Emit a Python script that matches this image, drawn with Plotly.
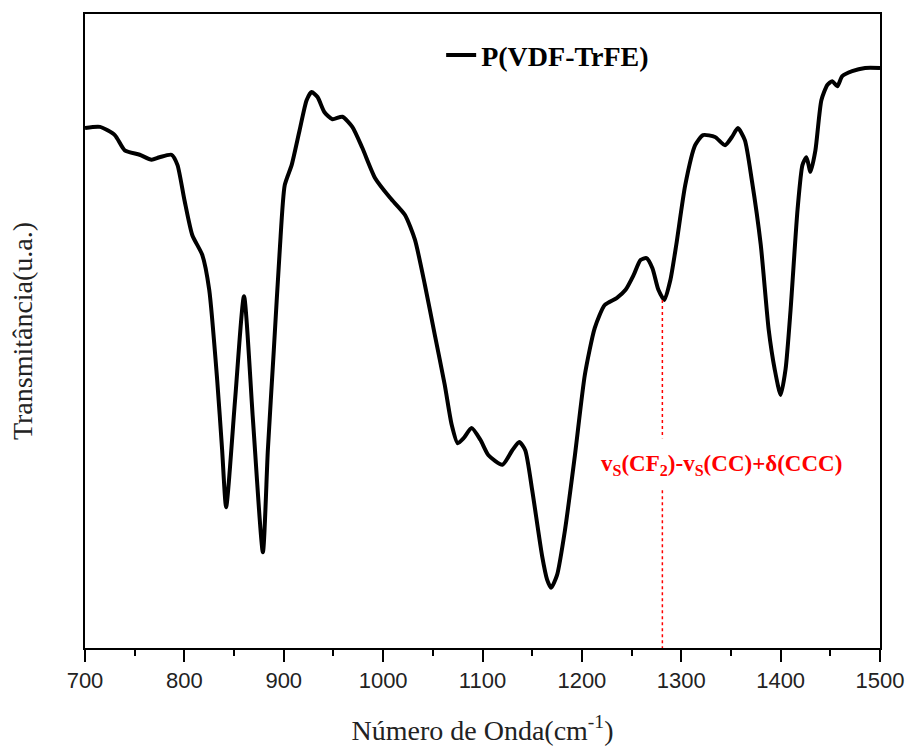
import plotly.graph_objects as go

# Wavenumber (cm^-1) and transmittance (arbitrary units)
wavenumber = [700, 715, 730, 740, 755, 767, 775, 787, 793, 800, 808, 818, 825, 833, 838, 842,
              851, 860, 869, 879, 884, 890, 896, 901, 908, 916, 923, 928, 934, 941, 949, 959,
              969, 979, 992, 1007, 1022, 1032, 1042, 1052, 1062, 1069, 1075, 1081, 1089, 1098,
              1106, 1120, 1130, 1137, 1143, 1150, 1160, 1165, 1169, 1175, 1183, 1193, 1203,
              1213, 1223, 1235, 1244, 1252, 1259, 1265, 1271, 1277, 1283, 1289, 1295, 1304,
              1314, 1322, 1334, 1344, 1351, 1357, 1364, 1371, 1380, 1388, 1394, 1400, 1405,
              1410, 1417, 1422, 1426, 1430, 1435, 1441, 1447, 1452, 1457, 1462, 1472, 1485, 1500]
transmittance = [82.0, 82.2, 80.9, 78.5, 77.8, 77.0, 77.4, 77.8, 76.2, 70.7, 65.1, 62.0, 56.5,
                 42.3, 31.2, 22.2, 39.1, 55.5, 36.0, 15.1, 31.2, 47.0, 62.8, 73.0, 76.2, 81.7,
                 86.4, 87.7, 86.9, 84.5, 83.4, 83.8, 82.2, 78.9, 74.1, 71.0, 68.3, 64.4, 57.3,
                 49.4, 41.5, 35.2, 32.3, 33.1, 34.7, 32.8, 30.4, 28.9, 31.2, 32.5, 31.2, 24.9,
                 14.5, 10.8, 9.5, 11.5, 18.6, 30.4, 43.1, 50.5, 54.1, 55.2, 56.5, 58.8, 61.2,
                 61.5, 59.9, 56.5, 54.9, 58.0, 63.6, 73.0, 79.3, 80.9, 80.6, 79.3, 80.6, 82.0,
                 80.1, 73.8, 63.6, 50.2, 44.0, 39.9, 44.0, 53.3, 69.1, 76.2, 77.4, 75.1, 78.5,
                 86.4, 88.8, 89.4, 88.6, 90.2, 91.0, 91.5, 91.5]

series_name = "P(VDF-TrFE)"
x_ticks = [700, 800, 900, 1000, 1100, 1200, 1300, 1400, 1500]

# Annotated band
band_wn = 1281
band_t = 54.9
band_label = "v<sub>S</sub>(CF<sub>2</sub>)-v<sub>S</sub>(CC)+δ(CCC)"
label_wn = 1340
label_t = 28.9
gap_top, gap_bottom = 33.1, 24.9

fig = go.Figure()
fig.add_trace(go.Scatter(
    x=wavenumber, y=transmittance, mode="lines", name=series_name,
    line=dict(color="black", width=4, shape="spline", smoothing=0.6),
))

fig.add_shape(type="line", x0=band_wn, x1=band_wn, y0=band_t, y1=gap_top,
              line=dict(color="red", width=1.5, dash="dot"))
fig.add_shape(type="line", x0=band_wn, x1=band_wn, y0=gap_bottom, y1=0,
              line=dict(color="red", width=1.5, dash="dot"))
fig.add_annotation(x=label_wn, y=label_t, text="<b>" + band_label + "</b>", showarrow=False,
                   font=dict(family="Liberation Serif", size=23, color="red"))

fig.update_layout(
    width=907, height=749,
    margin=dict(l=85, r=27, t=14, b=101),
    paper_bgcolor="white", plot_bgcolor="white",
    showlegend=True,
    legend=dict(x=0.448, y=0.935, xanchor="left", yanchor="middle",
                bgcolor="rgba(0,0,0,0)",
                font=dict(family="Liberation Serif", size=28, color="black", weight="bold")),
    xaxis=dict(
        range=[700, 1500], tickvals=x_ticks, ticks="outside", ticklen=12, tickwidth=2,
        tickcolor="black", showline=True, linecolor="black", linewidth=2, mirror=True,
        showgrid=False, zeroline=False, automargin=False,
        tickfont=dict(family="Liberation Sans", size=22, color="#222"),
        minor=dict(dtick=50, ticks="outside", ticklen=6, tickwidth=2, tickcolor="black"),
        title=dict(text="Número de Onda(cm<sup>-1</sup>)", standoff=28,
                   font=dict(family="Liberation Serif", size=28, color="#222")),
    ),
    yaxis=dict(
        range=[0, 100], showticklabels=False, ticks="", showline=True, linecolor="black",
        linewidth=2, mirror=True, showgrid=False, zeroline=False, automargin=False,
        title=dict(text="Transmitância(u.a.)", standoff=42,
                   font=dict(family="Liberation Serif", size=28, color="#222")),
    ),
)

fig.write_html("out.html")
